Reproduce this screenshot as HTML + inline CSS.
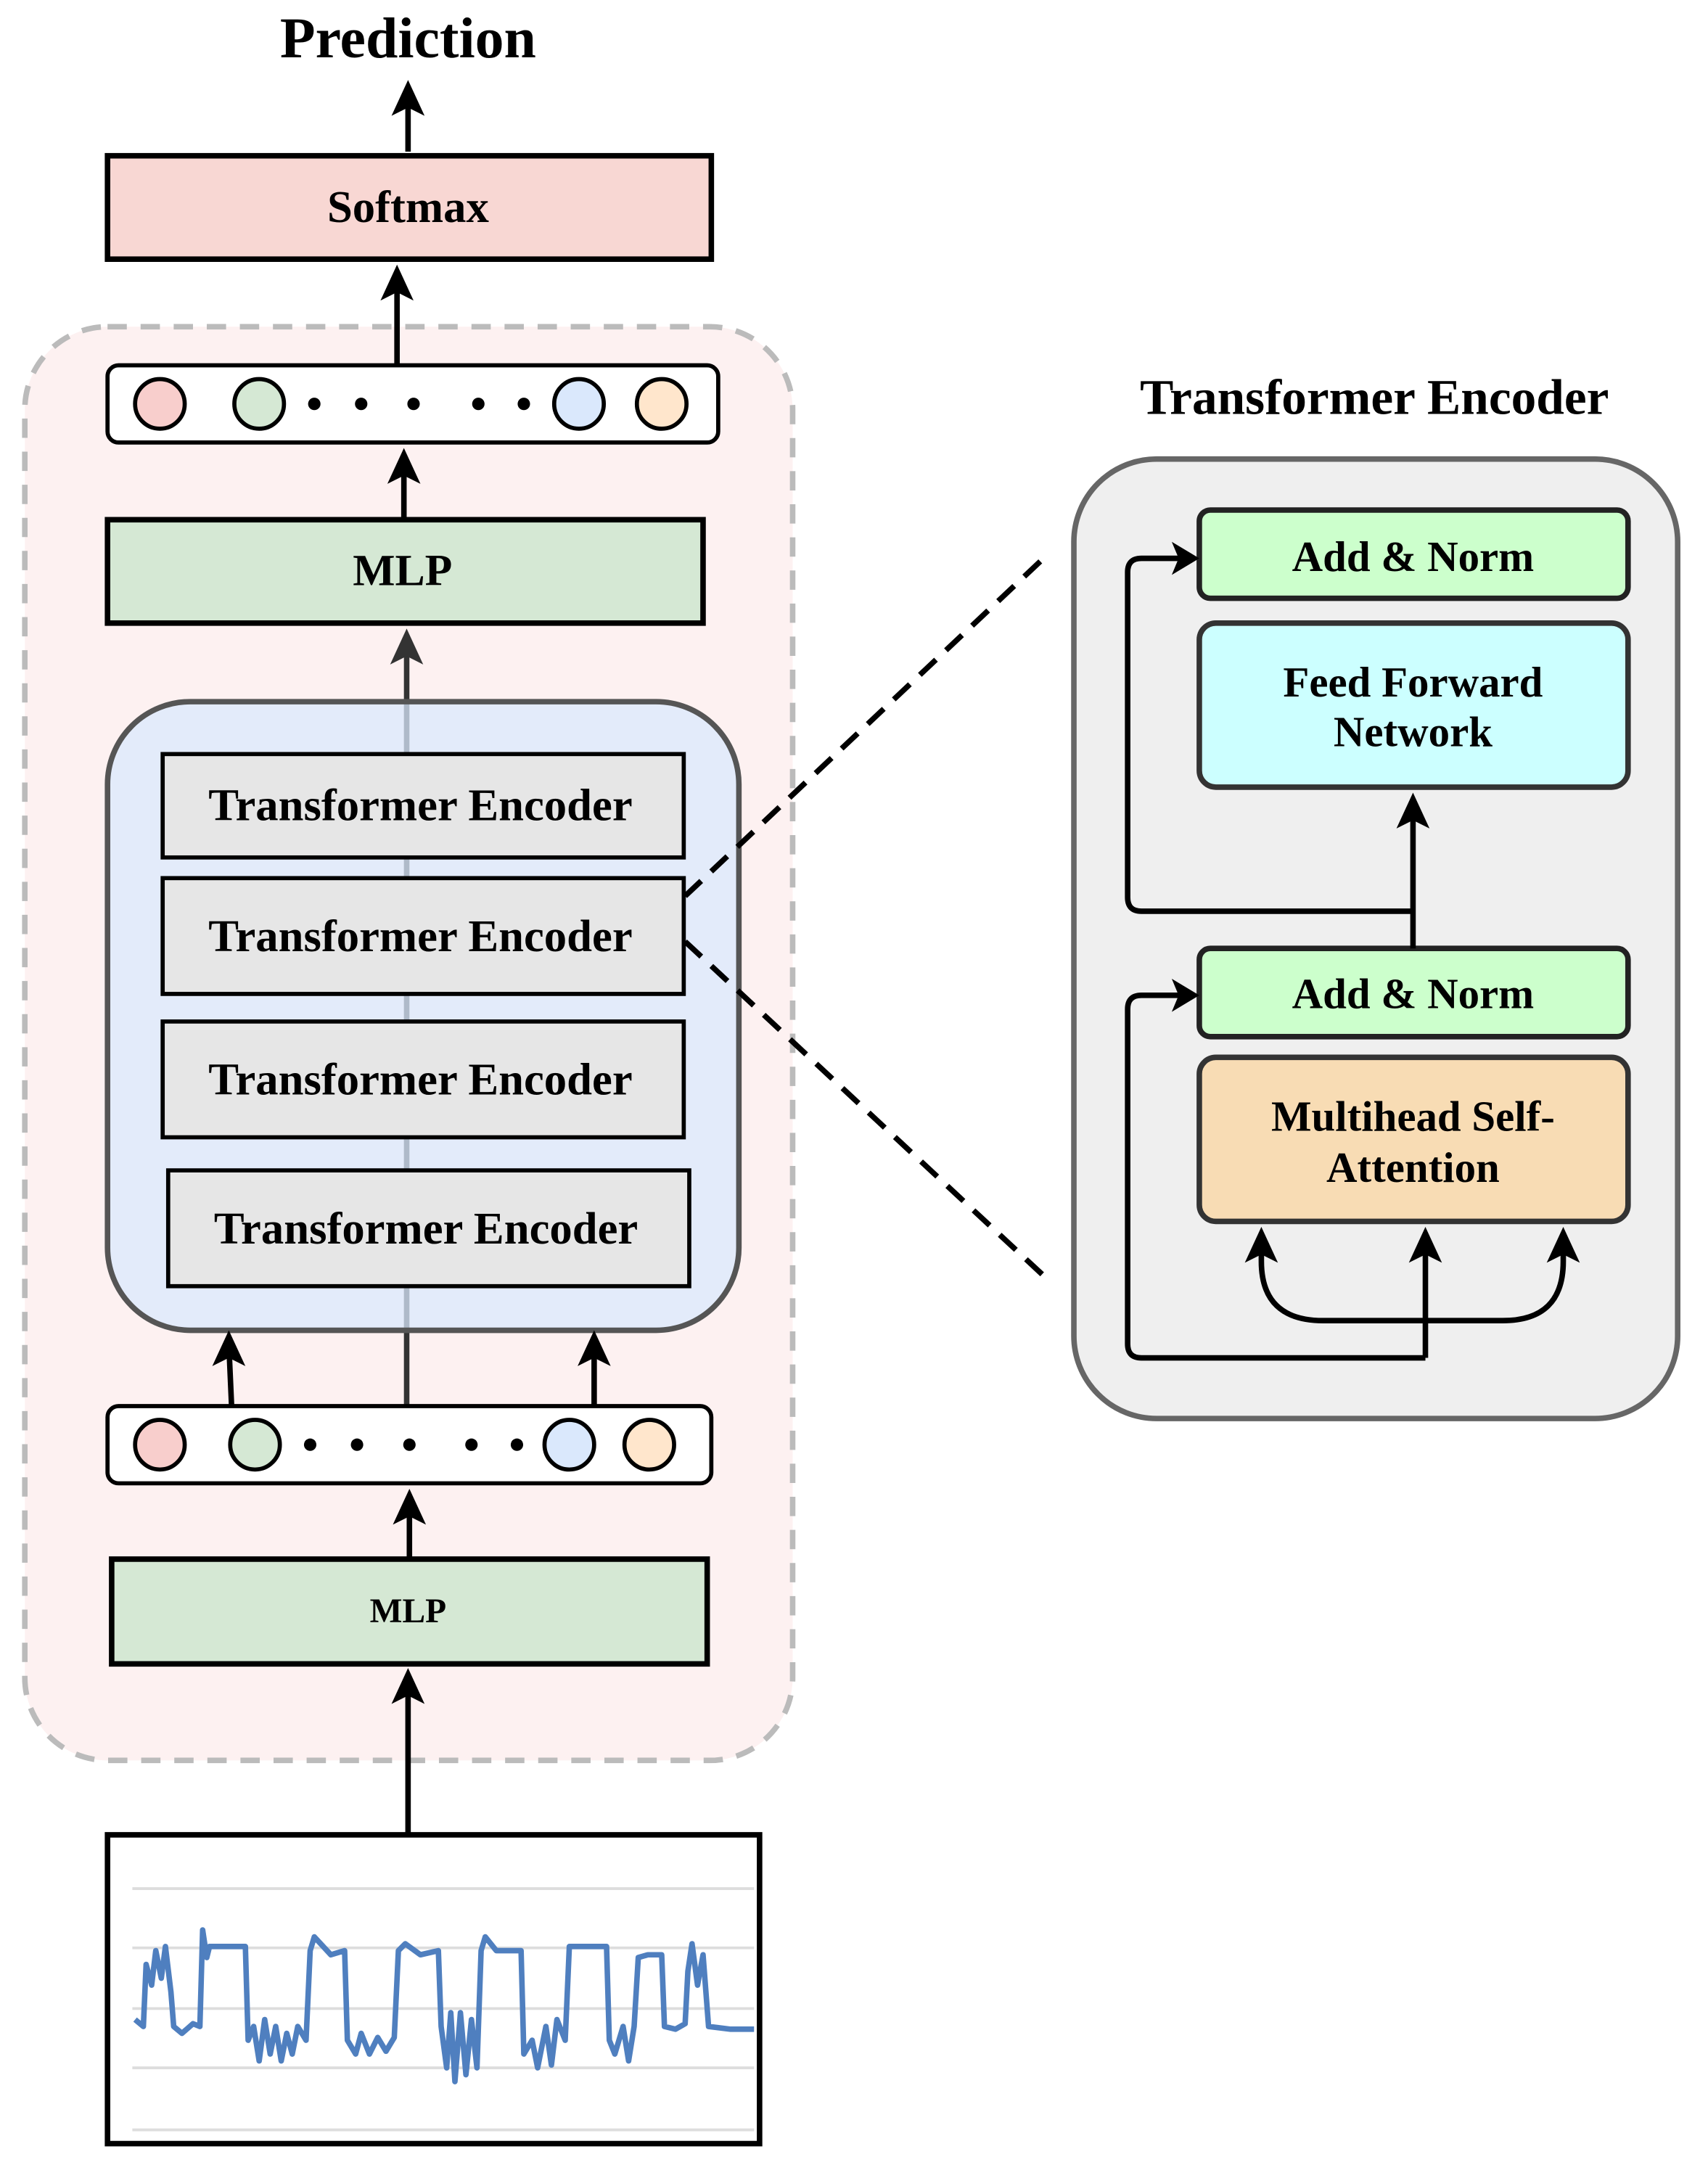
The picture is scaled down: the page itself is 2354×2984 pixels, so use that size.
<!DOCTYPE html>
<html><head><meta charset="utf-8"><style>
html,body{margin:0;padding:0;background:#fff}
svg{display:block}
text{font-family:"Liberation Serif",serif;font-weight:bold;fill:#000;text-anchor:middle;dominant-baseline:central}
</style></head><body>
<svg width="2354" height="2984" viewBox="0 0 1239 1570.5" preserveAspectRatio="none" xmlns="http://www.w3.org/2000/svg">
<text x="296" y="28" font-size="42">Prediction</text>
<line x1="296" y1="110" x2="296" y2="68" stroke="#000" stroke-width="4"/>
<path d="M284,84 L296,58 L308,84 L296,78 Z" fill="#000"/>
<rect x="78" y="113" width="438" height="75" fill="#f8d7d3" stroke="#000" stroke-width="4"/>
<text x="296" y="150" font-size="33">Softmax</text>

<rect x="18" y="237" width="557" height="1040" rx="60" fill="#fdf1f1" stroke="#bbb" stroke-width="4" stroke-dasharray="14,10"/>
<line x1="288" y1="265" x2="288" y2="202" stroke="#000" stroke-width="4"/>
<path d="M276,218 L288,192 L300,218 L288,212 Z" fill="#000"/>

<rect x="78" y="265" width="443" height="56" rx="8" fill="#fff" stroke="#000" stroke-width="3"/>
<circle cx="116" cy="293" r="18" fill="#f8cecc" stroke="#000" stroke-width="3"/>
<circle cx="188" cy="293" r="18" fill="#d5e8d4" stroke="#000" stroke-width="3"/>
<circle cx="420" cy="293" r="18" fill="#dae8fc" stroke="#000" stroke-width="3"/>
<circle cx="480" cy="293" r="18" fill="#ffe6cc" stroke="#000" stroke-width="3"/>
<g fill="#000"><circle cx="228" cy="293" r="4.5"/><circle cx="262" cy="293" r="4.5"/><circle cx="300" cy="293" r="4.5"/><circle cx="347" cy="293" r="4.5"/><circle cx="380" cy="293" r="4.5"/></g>
<line x1="293" y1="377" x2="293" y2="335" stroke="#000" stroke-width="4"/>
<path d="M281,351 L293,325 L305,351 L293,345 Z" fill="#000"/>
<rect x="78" y="377" width="432" height="75" fill="#d5e8d4" stroke="#000" stroke-width="4"/>
<text x="292" y="414" font-size="32.5">MLP</text>

<line x1="295" y1="1020" x2="295" y2="466" stroke="#333" stroke-width="4"/>
<path d="M283,482 L295,456 L307,482 L295,476 Z" fill="#333"/>
<rect x="78" y="509" width="458" height="456" rx="60" fill="#dae8fc" fill-opacity="0.75" stroke="#555" stroke-width="4"/>
<g stroke="#000" stroke-width="3" fill="#e6e6e6">
<rect x="118" y="547" width="378" height="75"/>
<rect x="118" y="637" width="378" height="84"/>
<rect x="118" y="741" width="378" height="84"/>
<rect x="122" y="849" width="378" height="84"/>
</g>
<g font-size="33">
<text x="305" y="584">Transformer Encoder</text>
<text x="305" y="679">Transformer Encoder</text>
<text x="305" y="783">Transformer Encoder</text>
<text x="309" y="891">Transformer Encoder</text>
</g>
<line x1="497" y1="650" x2="757" y2="405" stroke="#000" stroke-width="4" stroke-dasharray="16,10"/>
<line x1="497" y1="683" x2="762" y2="930" stroke="#000" stroke-width="4" stroke-dasharray="16,10"/>

<line x1="168" y1="1020" x2="166" y2="975" stroke="#000" stroke-width="4"/>
<path d="M154,991 L166,965 L178,991 L166,985 Z" fill="#000"/>
<line x1="431" y1="1020" x2="431" y2="975" stroke="#000" stroke-width="4"/>
<path d="M419,991 L431,965 L443,991 L431,985 Z" fill="#000"/>

<rect x="78" y="1020" width="438" height="56" rx="8" fill="#fff" stroke="#000" stroke-width="3"/>
<circle cx="116" cy="1048" r="18" fill="#f8cecc" stroke="#000" stroke-width="3"/>
<circle cx="185" cy="1048" r="18" fill="#d5e8d4" stroke="#000" stroke-width="3"/>
<circle cx="413" cy="1048" r="18" fill="#dae8fc" stroke="#000" stroke-width="3"/>
<circle cx="471" cy="1048" r="18" fill="#ffe6cc" stroke="#000" stroke-width="3"/>
<g fill="#000"><circle cx="225" cy="1048" r="4.5"/><circle cx="259" cy="1048" r="4.5"/><circle cx="297" cy="1048" r="4.5"/><circle cx="342" cy="1048" r="4.5"/><circle cx="375" cy="1048" r="4.5"/></g>
<line x1="297" y1="1130" x2="297" y2="1090" stroke="#000" stroke-width="4"/>
<path d="M285,1106 L297,1080 L309,1106 L297,1100 Z" fill="#000"/>
<rect x="81" y="1131" width="432" height="76" fill="#d5e8d4" stroke="#000" stroke-width="4"/>
<text x="296" y="1169" font-size="25">MLP</text>
<line x1="296" y1="1330" x2="296" y2="1220" stroke="#000" stroke-width="4"/>
<path d="M284,1236 L296,1210 L308,1236 L296,1230 Z" fill="#000"/>

<rect x="78" y="1331" width="473" height="224" fill="#fff" stroke="#000" stroke-width="4"/>
<g stroke="#ddd" stroke-width="2">
<line x1="96" y1="1370" x2="547" y2="1370"/><line x1="96" y1="1413" x2="547" y2="1413"/><line x1="96" y1="1457" x2="547" y2="1457"/><line x1="96" y1="1500" x2="547" y2="1500"/><line x1="96" y1="1545" x2="547" y2="1545"/>
</g>
<polyline fill="none" stroke="#4f7fbf" stroke-width="4" stroke-linejoin="round" points="98,1465 104,1470 106,1425 110,1440 113,1415 117,1435 120,1412 124,1445 126,1470 132,1475 140,1468 145,1470 147,1400 150,1420 152,1412 178,1412 180,1480 184,1470 188,1495 192,1465 196,1490 200,1470 204,1495 208,1475 212,1490 216,1470 222,1480 225,1415 228,1405 240,1418 250,1415 252,1480 258,1490 262,1475 268,1490 274,1478 280,1488 286,1478 289,1415 294,1410 305,1418 318,1415 320,1470 324,1500 327,1460 330,1510 334,1460 338,1505 342,1465 346,1500 349,1415 352,1405 360,1415 378,1415 380,1490 386,1480 390,1500 396,1470 400,1498 404,1465 410,1480 413,1412 420,1412 440,1412 442,1480 446,1490 452,1470 456,1495 460,1470 463,1420 470,1418 480,1418 482,1470 490,1472 497,1468 499,1430 502,1410 506,1440 510,1418 514,1470 530,1472 547,1472"/>

<text x="997" y="288" font-size="36.5">Transformer Encoder</text>
<rect x="779" y="333" width="438" height="696" rx="60" fill="#efefef" stroke="#666" stroke-width="4"/>
<rect x="870" y="370" width="311" height="64" rx="8" fill="#ccffcc" stroke="#222" stroke-width="4"/>
<text x="1025" y="404" font-size="31">Add &amp; Norm</text>
<rect x="870" y="452" width="311" height="119" rx="12" fill="#ccffff" stroke="#333" stroke-width="4"/>
<text x="1025" y="495" font-size="31">Feed Forward</text>
<text x="1025" y="531" font-size="31">Network</text>
<rect x="870" y="688" width="311" height="64" rx="8" fill="#ccffcc" stroke="#222" stroke-width="4"/>
<text x="1025" y="721" font-size="31">Add &amp; Norm</text>
<rect x="870" y="767" width="311" height="119" rx="12" fill="#f8dcb4" stroke="#333" stroke-width="4"/>
<text x="1025" y="810" font-size="31">Multihead Self-</text>
<text x="1025" y="847" font-size="31">Attention</text>

<g stroke="#000" stroke-width="4" fill="none">
<line x1="1025" y1="688" x2="1025" y2="585"/>
<path d="M1025,661 L828,661 Q818,661 818,651 L818,415 Q818,405 828,405 L856,405"/>
<line x1="1034" y1="985" x2="1034" y2="900"/>
<path d="M1034,985 L828,985 Q818,985 818,975 L818,732 Q818,722 828,722 L856,722"/>
<path d="M1034,958 L960,958 Q915,958 915,915 L915,900"/>
<path d="M1034,958 L1090,958 Q1134,958 1134,915 L1134,900"/>
</g>
<g fill="#000">
<path d="M1013,601 L1025,575 L1037,601 L1025,595 Z"/>
<path d="M1022,916 L1034,890 L1046,916 L1034,910 Z"/>
<path d="M903,916 L915,890 L927,916 L915,910 Z"/>
<path d="M1122,916 L1134,890 L1146,916 L1134,910 Z"/>
<path d="M850,393 L870,405 L850,417 L855,405 Z"/>
<path d="M850,710 L870,722 L850,734 L855,722 Z"/>
</g>
</svg>
</body></html>
